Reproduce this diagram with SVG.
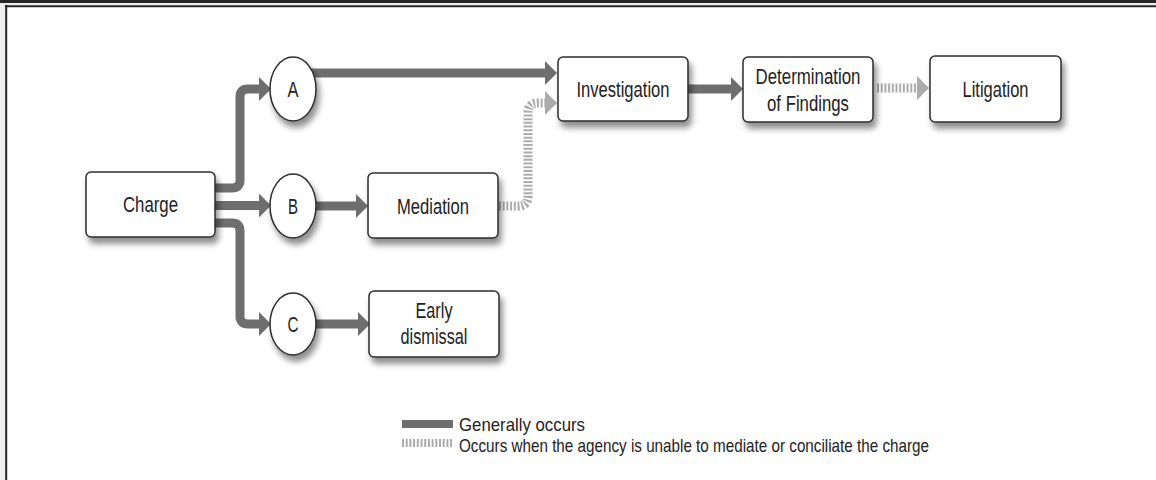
<svg xmlns="http://www.w3.org/2000/svg" width="1156" height="480" viewBox="0 0 1156 480">
  <style>
    .box { fill: #ffffff; stroke: #2e2e2e; stroke-width: 1.5; filter: url(#shadow); }
    .lbl { font-family: "Liberation Sans", Arial, sans-serif; font-size: 22px; fill: #222222; text-anchor: middle; }
    .leg { font-family: "Liberation Sans", Arial, sans-serif; font-size: 19px; fill: #222222; }
    .solid { fill: none; stroke: #6e6e6e; stroke-width: 9; }
    .dotted { fill: none; stroke: #acacac; stroke-width: 9; stroke-dasharray: 2 1.7; }
  </style>
  <defs>
    <filter id="shadow" x="-20%" y="-20%" width="150%" height="160%">
      <feGaussianBlur in="SourceAlpha" stdDeviation="3"/>
      <feOffset dx="3" dy="6" result="b"/>
      <feComponentTransfer><feFuncA type="linear" slope="0.45"/></feComponentTransfer>
      <feMerge><feMergeNode/><feMergeNode in="SourceGraphic"/></feMerge>
    </filter>
    <marker id="hs" markerUnits="userSpaceOnUse" markerWidth="12" markerHeight="24" refX="0" refY="12" orient="auto" viewBox="0 0 12 24">
      <path d="M0,0 L12,12 L0,24 Z" fill="#6e6e6e"/>
    </marker>
    <marker id="hd" markerUnits="userSpaceOnUse" markerWidth="12" markerHeight="24" refX="0" refY="12" orient="auto" viewBox="0 0 12 24">
      <path d="M0,0 L12,12 L0,24 Z" fill="#acacac"/>
    </marker>
  </defs>

  <!-- frame -->
  <rect x="0" y="0" width="1156" height="480" fill="#ffffff"/>
  <rect x="0" y="0" width="1156" height="6" fill="#eeeeee"/>
  <rect x="0" y="0" width="6" height="480" fill="#eeeeee"/>
  <rect x="0" y="0" width="1156" height="3" fill="#262626"/>
  <line x1="5" y1="6.2" x2="1156" y2="6.2" stroke="#262626" stroke-width="2"/>
  <line x1="6.2" y1="5" x2="6.2" y2="480" stroke="#262626" stroke-width="2"/>

  <g id="connectors">
    <path class="solid" d="M210 188 H232 Q240 188 240 180 V97 Q240 89 248 89 H259" marker-end="url(#hs)"/>
    <path class="solid" d="M210 205.5 H259" marker-end="url(#hs)"/>
    <path class="solid" d="M210 223 H232 Q240 223 240 231 V316 Q240 324 248 324 H259" marker-end="url(#hs)"/>
    <path class="solid" d="M310 206 H356" marker-end="url(#hs)"/>
    <path class="solid" d="M310 324 H358" marker-end="url(#hs)"/>
    <path class="solid" d="M305 73 H545" marker-end="url(#hs)"/>
    <path class="solid" d="M685 89 H731" marker-end="url(#hs)"/>
    <path class="dotted" d="M499 206 H518 Q528 206 528 196 V113 Q528 103 538 103 H545" marker-end="url(#hd)"/>
    <path class="dotted" d="M877 88 H917" marker-end="url(#hd)"/>
  </g>

  <g id="node-charge">
    <rect class="box" x="86" y="172" width="129" height="65" rx="5"/>
    <text class="lbl" x="150.5" y="212" textLength="55" lengthAdjust="spacingAndGlyphs">Charge</text>
  </g>
  <g id="node-a">
    <ellipse class="box" cx="293" cy="89" rx="23" ry="32"/>
    <text class="lbl" x="293" y="97" textLength="11" lengthAdjust="spacingAndGlyphs">A</text>
  </g>
  <g id="node-b">
    <ellipse class="box" cx="293" cy="206" rx="23" ry="32"/>
    <text class="lbl" x="293" y="214" textLength="10" lengthAdjust="spacingAndGlyphs">B</text>
  </g>
  <g id="node-c">
    <ellipse class="box" cx="293" cy="324" rx="23" ry="31"/>
    <text class="lbl" x="293" y="332" textLength="11" lengthAdjust="spacingAndGlyphs">C</text>
  </g>
  <g id="node-mediation">
    <rect class="box" x="368" y="173" width="130" height="65" rx="5"/>
    <text class="lbl" x="433" y="213.5" textLength="72" lengthAdjust="spacingAndGlyphs">Mediation</text>
  </g>
  <g id="node-early-dismissal">
    <rect class="box" x="369" y="291" width="130" height="66" rx="5"/>
    <text class="lbl" x="434" y="318" textLength="37" lengthAdjust="spacingAndGlyphs">Early</text>
    <text class="lbl" x="434" y="344" textLength="67" lengthAdjust="spacingAndGlyphs">dismissal</text>
  </g>
  <g id="node-investigation">
    <rect class="box" x="558" y="57" width="130" height="64" rx="5"/>
    <text class="lbl" x="623" y="97" textLength="93" lengthAdjust="spacingAndGlyphs">Investigation</text>
  </g>
  <g id="node-determination">
    <rect class="box" x="743" y="57" width="130" height="65" rx="5"/>
    <text class="lbl" x="808" y="84" textLength="105" lengthAdjust="spacingAndGlyphs">Determination</text>
    <text class="lbl" x="808" y="111" textLength="82" lengthAdjust="spacingAndGlyphs">of Findings</text>
  </g>
  <g id="node-litigation">
    <rect class="box" x="930" y="56" width="131" height="66" rx="5"/>
    <text class="lbl" x="995.5" y="97" textLength="66" lengthAdjust="spacingAndGlyphs">Litigation</text>
  </g>

  <g id="legend">
    <rect x="402" y="420" width="51" height="8" fill="#6e6e6e"/>
    <line x1="402" y1="443" x2="452" y2="443" stroke="#acacac" stroke-width="8" stroke-dasharray="2 1.7"/>
    <text class="leg" x="459" y="431" textLength="126" lengthAdjust="spacingAndGlyphs">Generally occurs</text>
    <text class="leg" x="459" y="452" textLength="470" lengthAdjust="spacingAndGlyphs">Occurs when the agency is unable to mediate or conciliate the charge</text>
  </g>
</svg>
